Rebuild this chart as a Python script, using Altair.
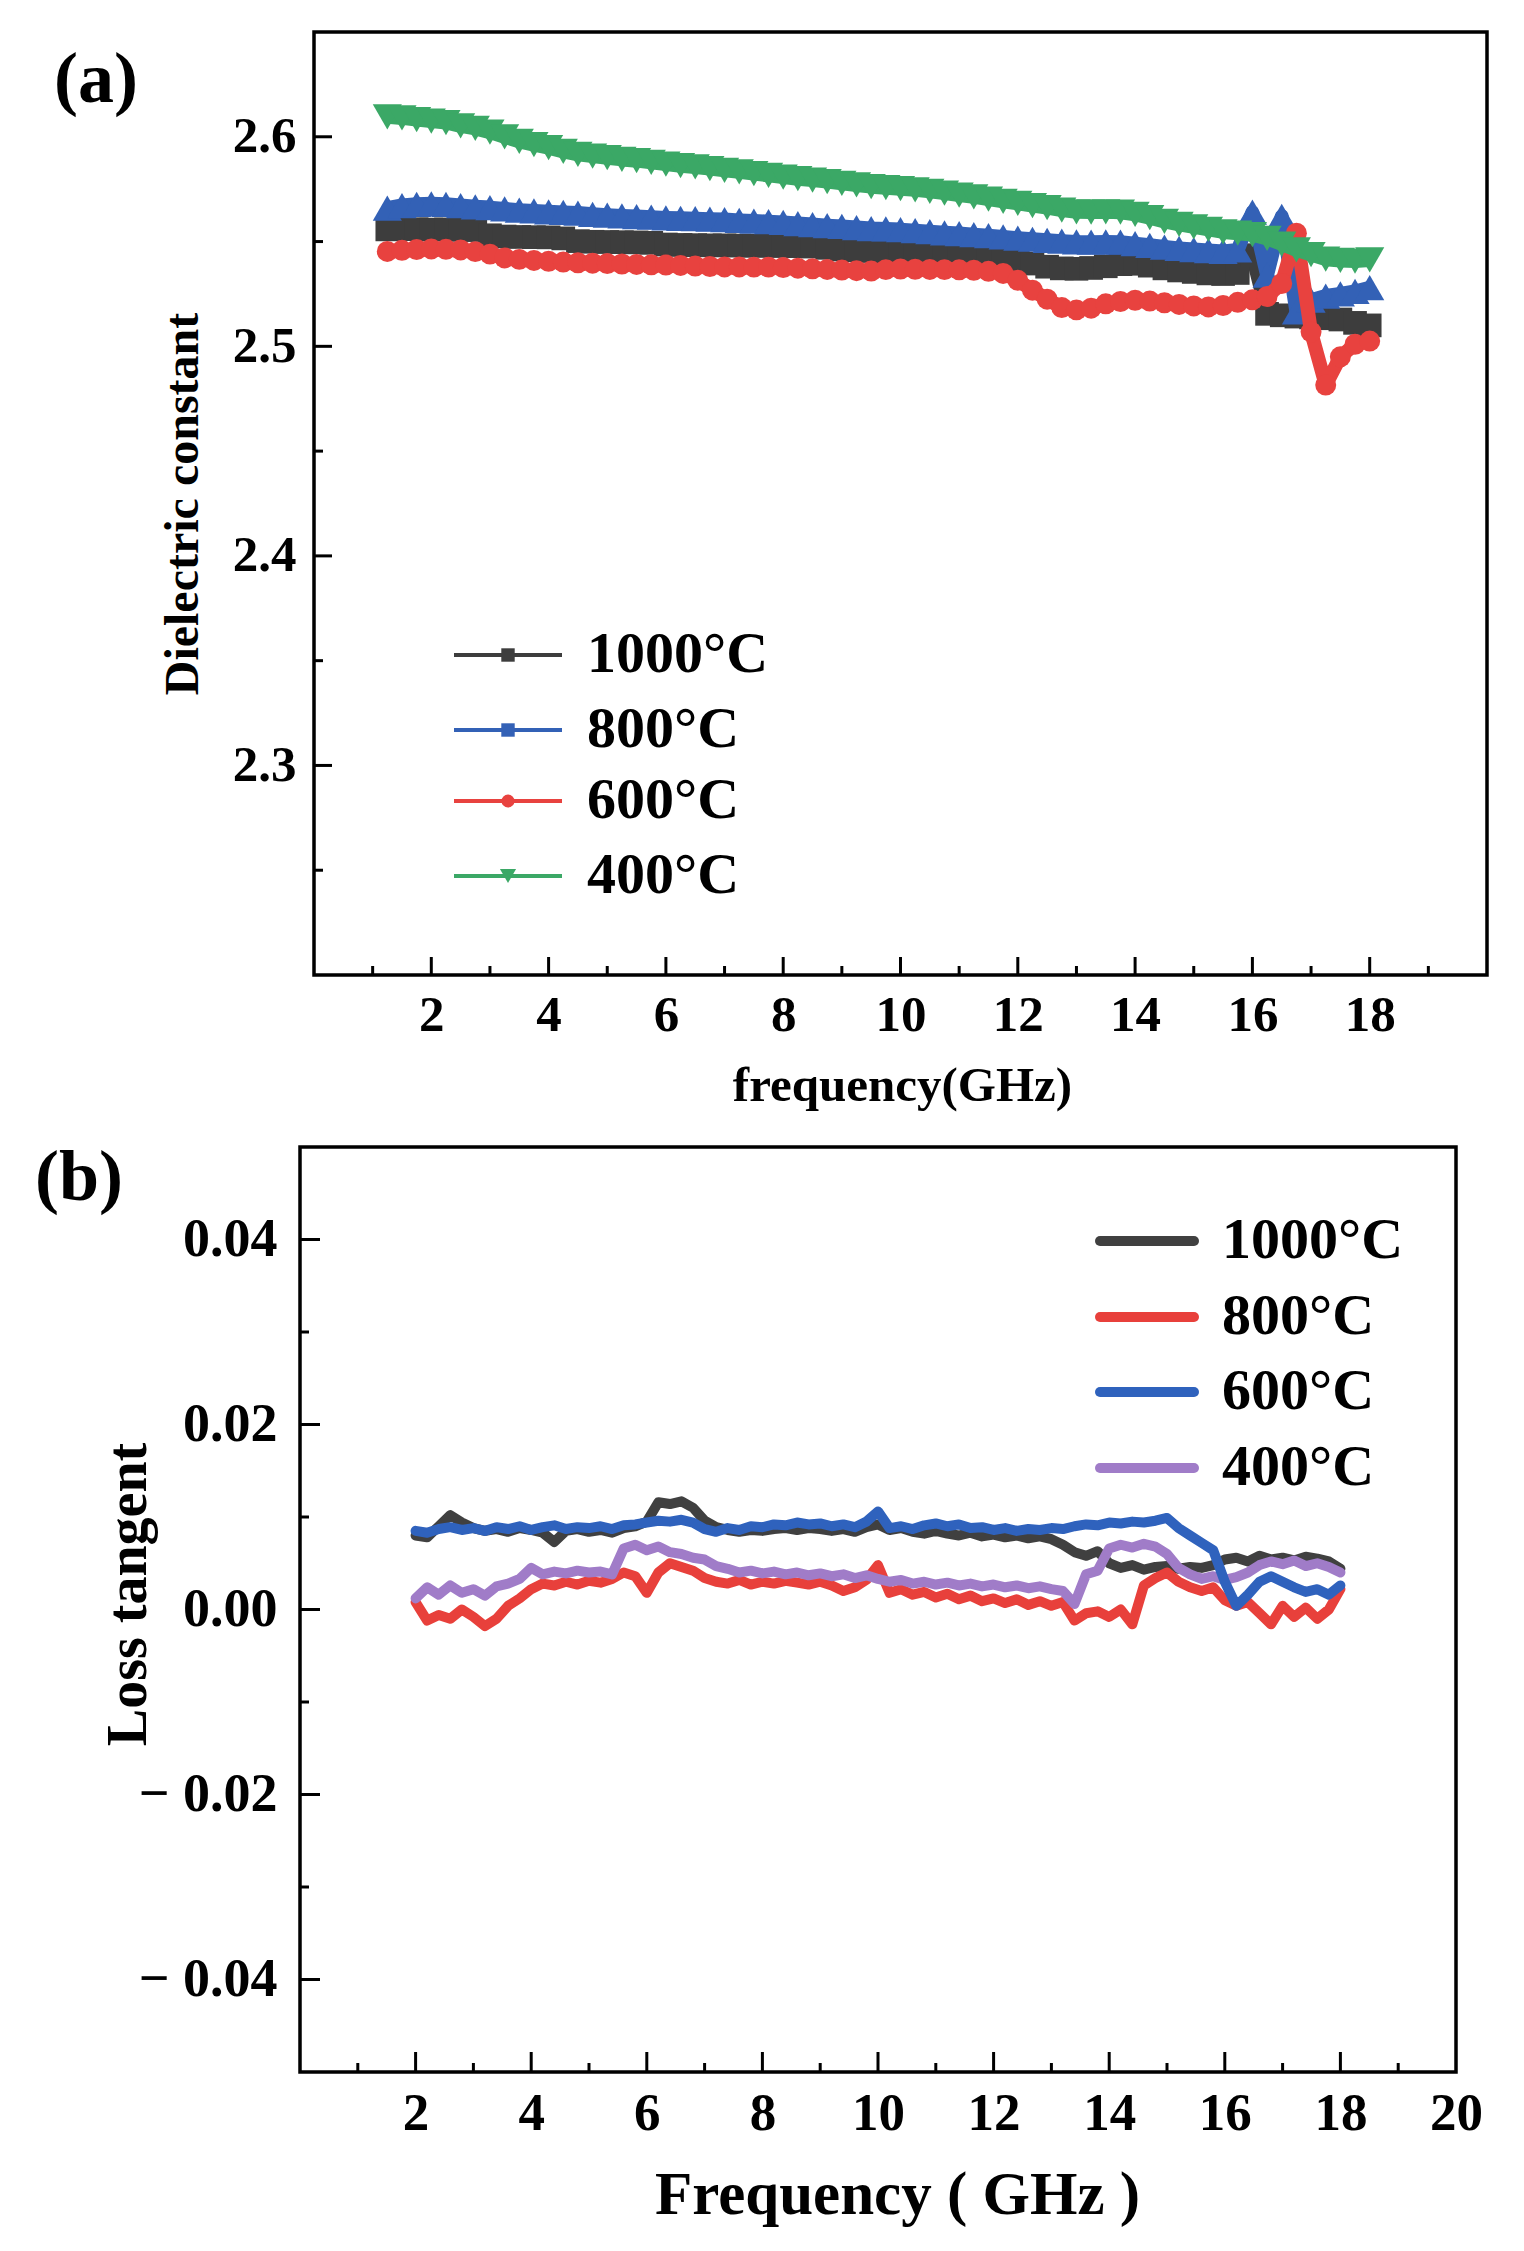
import altair as alt
import pandas as pd

FONT = "Liberation Serif"

# ---------------- panel (a): dielectric constant ----------------
FREQ_A = [round(1.25 + 0.25 * i, 2) for i in range(68)]  # 1.25 ... 18.0 GHz

EPS_1000 = [2.5558, 2.5560, 2.5559, 2.5557, 2.5558, 2.5556, 2.5555, 2.5530,
            2.5524, 2.5522, 2.5521, 2.5520, 2.5515, 2.5502, 2.5499, 2.5498,
            2.5497, 2.5496, 2.5494, 2.5486, 2.5484, 2.5483, 2.5482, 2.5482,
            2.5481, 2.5480, 2.5480, 2.5479, 2.5478, 2.5476, 2.5470, 2.5462,
            2.5458, 2.5455, 2.5450, 2.5446, 2.5443, 2.5442, 2.5441, 2.5440,
            2.5430, 2.5422, 2.5418, 2.5412, 2.5395, 2.5380, 2.5372, 2.5370,
            2.5374, 2.5382, 2.5392, 2.5394, 2.5385, 2.5372, 2.5362, 2.5355,
            2.5348, 2.5345, 2.5350, 2.5435, 2.5155, 2.5148, 2.5142, 2.5138,
            2.5134, 2.5128, 2.5112, 2.5100]

EPS_800 = [2.5660, 2.5672, 2.5678, 2.5680, 2.5678, 2.5672, 2.5666, 2.5662,
           2.5656, 2.5650, 2.5646, 2.5642, 2.5639, 2.5636, 2.5630, 2.5626,
           2.5622, 2.5619, 2.5616, 2.5613, 2.5611, 2.5609, 2.5607, 2.5605,
           2.5601, 2.5598, 2.5595, 2.5591, 2.5586, 2.5581, 2.5576, 2.5572,
           2.5567, 2.5562, 2.5560, 2.5557, 2.5552, 2.5547, 2.5542, 2.5538,
           2.5533, 2.5528, 2.5522, 2.5516, 2.5511, 2.5506, 2.5502, 2.5498,
           2.5497, 2.5498, 2.5497, 2.5490, 2.5482, 2.5474, 2.5467, 2.5462,
           2.5457, 2.5453, 2.5460, 2.5640, 2.5340, 2.5620, 2.5165, 2.5220,
           2.5240, 2.5250, 2.5262, 2.5280]

EPS_600 = [2.5453, 2.5458, 2.5462, 2.5465, 2.5463, 2.5460, 2.5452, 2.5440,
           2.5422, 2.5415, 2.5410, 2.5406, 2.5402, 2.5399, 2.5397, 2.5395,
           2.5393, 2.5391, 2.5389, 2.5388, 2.5386, 2.5383, 2.5381, 2.5379,
           2.5379, 2.5378, 2.5378, 2.5376, 2.5373, 2.5370, 2.5367, 2.5364,
           2.5361, 2.5359, 2.5366, 2.5369, 2.5368, 2.5367, 2.5366, 2.5365,
           2.5363, 2.5358, 2.5348, 2.5315, 2.5268, 2.5225, 2.5185, 2.5174,
           2.5182, 2.5203, 2.5214, 2.5220, 2.5216, 2.5208, 2.5200, 2.5193,
           2.5188, 2.5195, 2.5210, 2.5222, 2.5238, 2.5300, 2.5540, 2.5069,
           2.4815, 2.4950, 2.5010, 2.5025]

EPS_400 = [2.6095, 2.6090, 2.6082, 2.6075, 2.6068, 2.6052, 2.6040, 2.6022,
           2.6000, 2.5978, 2.5962, 2.5948, 2.5930, 2.5916, 2.5908, 2.5900,
           2.5892, 2.5886, 2.5878, 2.5870, 2.5862, 2.5856, 2.5848, 2.5840,
           2.5833, 2.5824, 2.5816, 2.5808, 2.5800, 2.5793, 2.5786, 2.5778,
           2.5770, 2.5762, 2.5757, 2.5752, 2.5747, 2.5740, 2.5731, 2.5722,
           2.5713, 2.5703, 2.5692, 2.5682, 2.5672, 2.5662, 2.5650, 2.5642,
           2.5641, 2.5642, 2.5640, 2.5630, 2.5614, 2.5596, 2.5582, 2.5570,
           2.5558, 2.5546, 2.5540, 2.5533, 2.5515, 2.5488, 2.5460, 2.5438,
           2.5416, 2.5410, 2.5407, 2.5412]

SERIES_A = ["1000°C", "800°C", "600°C", "400°C"]
VALUES_A = [EPS_1000, EPS_800, EPS_600, EPS_400]
COLORS_A = ["#3d3d3d", "#3361b6", "#e8423f", "#3ba866"]
SHAPES_A = ["square", "triangle-up", "circle", "triangle-down"]
SIZES_A = [560, 850, 440, 850]
LEG_SHAPES_A = ["square", "square", "circle", "triangle-down"]
LEG_SIZES_A = [180, 180, 170, 260]

# ---------------- panel (b): loss tangent ----------------
FREQ_B = [round(2.0 + 0.2 * i, 1) for i in range(81)]  # 2.0 ... 18.0 GHz

TAN_1000 = [0.0080, 0.0078, 0.0090, 0.0102, 0.0094, 0.0088, 0.0085, 0.0087, 0.0084, 0.0088,
            0.0086, 0.0083, 0.0073, 0.0085, 0.0087, 0.0084, 0.0086, 0.0083, 0.0088, 0.0090,
            0.0095, 0.0116, 0.0114, 0.0117, 0.0110, 0.0096, 0.0089, 0.0086, 0.0084, 0.0086,
            0.0085, 0.0087, 0.0088, 0.0086, 0.0088, 0.0087, 0.0085, 0.0087, 0.0084, 0.0089,
            0.0092, 0.0086, 0.0088, 0.0084, 0.0082, 0.0085, 0.0082, 0.0080, 0.0083, 0.0079,
            0.0081, 0.0078, 0.0080, 0.0077, 0.0079, 0.0076, 0.0070, 0.0062, 0.0058, 0.0063,
            0.0050, 0.0045, 0.0048, 0.0043, 0.0046, 0.0047, 0.0044, 0.0046, 0.0045, 0.0048,
            0.0054, 0.0056, 0.0052, 0.0058, 0.0054, 0.0056, 0.0053, 0.0057, 0.0055, 0.0052,
            0.0044]

TAN_800 = [0.0008, -0.0012, -0.0006, -0.0010, 0.0000, -0.0008, -0.0018, -0.0010, 0.0004, 0.0012,
           0.0022, 0.0028, 0.0026, 0.0030, 0.0027, 0.0031, 0.0029, 0.0033, 0.0040, 0.0036,
           0.0018, 0.0040, 0.0050, 0.0046, 0.0042, 0.0034, 0.0030, 0.0028, 0.0032, 0.0027,
           0.0030, 0.0028, 0.0031, 0.0029, 0.0027, 0.0030, 0.0026, 0.0020, 0.0024, 0.0032,
           0.0048, 0.0018, 0.0022, 0.0016, 0.0019, 0.0013, 0.0017, 0.0011, 0.0015, 0.0009,
           0.0012, 0.0007, 0.0011, 0.0005, 0.0009, 0.0004, 0.0008, -0.0012, -0.0004, -0.0002,
           -0.0008, 0.0000, -0.0016, 0.0026, 0.0034, 0.0040, 0.0030, 0.0024, 0.0020, 0.0024,
           0.0010, 0.0004, 0.0008, -0.0004, -0.0016, 0.0004, -0.0008, 0.0002, -0.0010, 0.0000,
           0.0022]

TAN_600 = [0.0085, 0.0083, 0.0087, 0.0089, 0.0086, 0.0088, 0.0085, 0.0089, 0.0087, 0.0090,
           0.0086, 0.0089, 0.0091, 0.0087, 0.0089, 0.0088, 0.0090, 0.0087, 0.0091, 0.0092,
           0.0094, 0.0096, 0.0095, 0.0097, 0.0094, 0.0087, 0.0084, 0.0088, 0.0086, 0.0090,
           0.0089, 0.0092, 0.0091, 0.0094, 0.0092, 0.0093, 0.0090, 0.0092, 0.0089, 0.0095,
           0.0106, 0.0088, 0.0090, 0.0087, 0.0091, 0.0093, 0.0090, 0.0092, 0.0088, 0.0089,
           0.0086, 0.0088, 0.0085, 0.0087, 0.0086, 0.0088, 0.0087, 0.0090, 0.0092, 0.0091,
           0.0094, 0.0093, 0.0095, 0.0094, 0.0096, 0.0099, 0.0088, 0.0080, 0.0072, 0.0064,
           0.0030, 0.0004, 0.0016, 0.0030, 0.0036, 0.0030, 0.0024, 0.0019, 0.0022, 0.0016,
           0.0026]

TAN_400 = [0.0012, 0.0024, 0.0016, 0.0026, 0.0018, 0.0022, 0.0015, 0.0025, 0.0028, 0.0033,
           0.0045, 0.0038, 0.0041, 0.0039, 0.0042, 0.0040, 0.0041, 0.0038, 0.0066, 0.0070,
           0.0064, 0.0068, 0.0062, 0.0060, 0.0056, 0.0054, 0.0047, 0.0044, 0.0040, 0.0042,
           0.0039, 0.0041, 0.0038, 0.0040, 0.0037, 0.0039, 0.0036, 0.0038, 0.0034, 0.0037,
           0.0033, 0.0030, 0.0032, 0.0028, 0.0030, 0.0027, 0.0029, 0.0026, 0.0028, 0.0025,
           0.0027, 0.0024, 0.0026, 0.0023, 0.0025, 0.0022, 0.0020, 0.0006, 0.0038, 0.0042,
           0.0066, 0.0070, 0.0067, 0.0071, 0.0068, 0.0060, 0.0045, 0.0038, 0.0033, 0.0036,
           0.0032, 0.0035, 0.0040, 0.0048, 0.0052, 0.0049, 0.0053, 0.0047, 0.0050, 0.0046,
           0.0040]

SERIES_B = ["1000°C", "800°C", "600°C", "400°C"]
VALUES_B = [TAN_1000, TAN_800, TAN_600, TAN_400]
COLORS_B = ["#404040", "#e8403b", "#2f62bd", "#a07cc8"]
DRAW_ORDER_B = [0, 1, 3, 2]

# ---------------- geometry ----------------
OFF_A = 14                  # panel (a) frame starts this far right of panel (b)'s
FRAME_WA, HA = 1173, 943
WA = FRAME_WA + OFF_A       # view width of panel (a), including the left gutter
UNIT_A = FRAME_WA / 20.0
WB, HB = 1156, 925


def axis(values, size, pad, title, title_size, tx, ty, angle=None, fmt=None, expr=None):
    kw = dict(values=values, domain=False, ticks=False, grid=False,
              labelFont=FONT, labelFontSize=size, labelFontWeight="bold",
              labelColor="black", labelPadding=pad, labelFlush=False,
              labelOverlap=False, labelBound=False,
              title=title, titleFont=FONT, titleFontSize=title_size,
              titleFontWeight="bold", titleColor="black",
              titleX=tx, titleY=ty, titleBaseline="middle", titleAlign="center")
    if angle is not None:
        kw["titleAngle"] = angle
    if fmt is not None:
        kw["format"] = fmt
    if expr is not None:
        kw["labelExpr"] = expr
    return alt.Axis(**kw)


def tick_layers(xs, ys, xax, yax, xmaj, xmin, ymaj, ymin, H, L_maj, L_min, x0=0):
    layers = []
    for vals, L in ((xmaj, L_maj), (xmin, L_min)):
        layers.append(
            alt.Chart(pd.DataFrame({"f": vals})).mark_rule(color="black", strokeWidth=3)
            .encode(x=alt.X("f:Q", scale=xs, axis=xax),
                    y=alt.value(H), y2=alt.value(H - L)))
    for vals, L in ((ymaj, L_maj), (ymin, L_min)):
        layers.append(
            alt.Chart(pd.DataFrame({"v": vals})).mark_rule(color="black", strokeWidth=3)
            .encode(y=alt.Y("v:Q", scale=ys, axis=yax),
                    x=alt.value(x0), x2=alt.value(x0 + L)))
    return layers


def label_layer(text, x, y, size, align="center"):
    return (alt.Chart(pd.DataFrame({"label": [text]}))
            .mark_text(font=FONT, fontSize=size, fontWeight="bold", color="black",
                       align=align, baseline="middle")
            .encode(x=alt.value(x), y=alt.value(y), text=alt.Text("label:N")))


def spacer_layer(x):
    # invisible element that only fixes the panel's left bound
    return (alt.Chart(pd.DataFrame({"k": [0]}))
            .mark_rule(strokeOpacity=0, opacity=0, strokeWidth=1)
            .encode(x=alt.value(x), x2=alt.value(x + 4), y=alt.value(40)))


# ---------------- build panel (a) ----------------
xs_a = alt.Scale(domain=[-OFF_A / UNIT_A, 20], nice=False, zero=False)
ys_a = alt.Scale(domain=[2.2, 2.65], nice=False, zero=False)
xax_a = axis(list(range(2, 19, 2)), 51, 15, "frequency(GHz)", 49, 602, 110)
yax_a = axis([2.3, 2.4, 2.5, 2.6], 51, 18 - OFF_A, "Dielectric constant", 48,
             -131 + OFF_A, HA / 2, angle=270, fmt=".1f")

layers_a = tick_layers(xs_a, ys_a, xax_a, yax_a,
                       list(range(2, 19, 2)), list(range(1, 20, 2)),
                       [2.3, 2.4, 2.5, 2.6], [2.25, 2.35, 2.45, 2.55], HA, 18, 9, x0=OFF_A)

for name, vals, col, shp, sz in zip(SERIES_A, VALUES_A, COLORS_A, SHAPES_A, SIZES_A):
    df = pd.DataFrame({"f": FREQ_A, "v": vals})
    enc = dict(x=alt.X("f:Q", scale=xs_a, axis=xax_a), y=alt.Y("v:Q", scale=ys_a, axis=yax_a))
    layers_a.append(alt.Chart(df).mark_line(color=col, strokeWidth=14, strokeJoin="round")
                    .encode(**enc))
    layers_a.append(alt.Chart(df).mark_point(color=col, filled=True, opacity=1,
                                             shape=shp, size=sz).encode(**enc))

# frame of panel (a)
layers_a.append(alt.Chart(pd.DataFrame({"k": [0]}))
                .mark_rect(fill="white", fillOpacity=0, stroke="black", strokeWidth=3.5)
                .encode(x=alt.value(OFF_A), x2=alt.value(WA), y=alt.value(0), y2=alt.value(HA)))

leg_rows_a = [623, 698, 769, 844]
for i, name in enumerate(SERIES_A):
    y = leg_rows_a[i]
    d = pd.DataFrame({"label": [name]})
    layers_a.append(alt.Chart(d).mark_rule(color=COLORS_A[i], strokeWidth=4)
                    .encode(x=alt.value(140 + OFF_A), x2=alt.value(248 + OFF_A), y=alt.value(y)))
    layers_a.append(alt.Chart(d).mark_point(color=COLORS_A[i], filled=True, opacity=1,
                                            shape=LEG_SHAPES_A[i], size=LEG_SIZES_A[i])
                    .encode(x=alt.value(194 + OFF_A), y=alt.value(y)))
    layers_a.append(label_layer(name, 273 + OFF_A, y, 58, align="left"))

layers_a.append(label_layer("(a)", -218 + OFF_A, 48, 72))

panel_a = alt.layer(*layers_a).properties(
    width=WA, height=HA, view=alt.ViewBackground(strokeOpacity=0))

# ---------------- build panel (b) ----------------
xs_b = alt.Scale(domain=[0, 20], nice=False, zero=False)
ys_b = alt.Scale(domain=[-0.05, 0.05], nice=False, zero=False)
minus_expr = ("datum.value < -0.0001 ? '\u2212 ' + format(-datum.value, '.2f') : "
              "format(abs(datum.value), '.2f')")
xax_b = axis(list(range(2, 21, 2)), 53, 15, "Frequency ( GHz )", 61, 597, 123)
yax_b = axis([-0.04, -0.02, 0.0, 0.02, 0.04], 54, 23, "Loss tangent", 56, -172, 447,
             angle=270, expr=minus_expr)

layers_b = tick_layers(xs_b, ys_b, xax_b, yax_b,
                       list(range(2, 19, 2)), list(range(1, 20, 2)),
                       [-0.04, -0.02, 0.0, 0.02, 0.04], [-0.03, -0.01, 0.01, 0.03],
                       HB, 20, 9)

for k in DRAW_ORDER_B:
    df = pd.DataFrame({"f": FREQ_B, "v": VALUES_B[k]})
    layers_b.append(alt.Chart(df).mark_line(color=COLORS_B[k], strokeWidth=10,
                                            strokeJoin="round", strokeCap="round")
                    .encode(x=alt.X("f:Q", scale=xs_b, axis=xax_b),
                            y=alt.Y("v:Q", scale=ys_b, axis=yax_b)))

leg_rows_b = [94, 170, 245, 321]
for i, name in enumerate(SERIES_B):
    y = leg_rows_b[i]
    d = pd.DataFrame({"label": [name]})
    layers_b.append(alt.Chart(d).mark_rule(color=COLORS_B[i], strokeWidth=10, strokeCap="round")
                    .encode(x=alt.value(800), x2=alt.value(894), y=alt.value(y)))
    layers_b.append(label_layer(name, 922, y, 58, align="left"))

layers_b.append(label_layer("(b)", -221, 31, 72))
layers_b.append(spacer_layer(-270))

panel_b = alt.layer(*layers_b).properties(width=WB, height=HB)

chart = (alt.concat(panel_a, panel_b, columns=1, spacing=30, align="none")
         .properties(padding={"left": 20, "top": 22, "right": 0, "bottom": 0})
         .configure(font=FONT)
         .configure_view(stroke="black", strokeWidth=3.5))

chart.save("out.html", embed_options={"renderer": "svg", "actions": False})
